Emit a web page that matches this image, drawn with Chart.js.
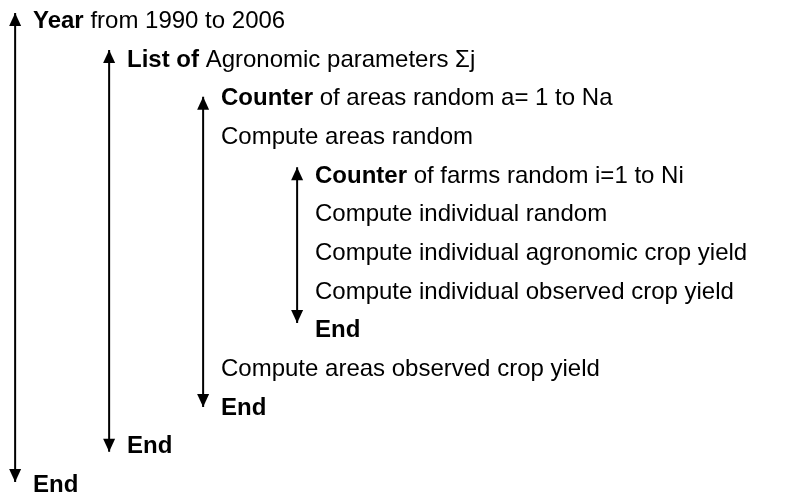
<!DOCTYPE html>
<html>
<head>
<meta charset="utf-8">
<script src="https://cdn.jsdelivr.net/npm/chart.js@4"></script>
<style>
  body { margin: 0; background: #fff; }
  canvas { display: block; }
</style>
</head>
<body>
<canvas id="flowChart" width="797" height="495"></canvas>
<script>
// one entry per text row, top to bottom
const rowLevels = [0, 1, 2, 2, 3, 3, 3, 3, 3, 2, 2, 1, 0];
const rowBold = ["Year", "List of", "Counter", "", "Counter", "", "", "", "End", "", "End", "End", "End"];
const rowText = [
  " from 1990 to 2006",
  " Agronomic parameters Σj",
  " of areas random a= 1 to Na",
  "Compute areas random",
  " of farms random i=1 to Ni",
  "Compute individual random",
  "Compute individual agronomic crop yield",
  "Compute individual observed crop yield",
  "",
  "Compute areas observed crop yield",
  "",
  "",
  ""
];

// loops (double arrows): nesting level, top tip row, bottom tip row
const loopLevels = [0, 1, 2, 3];
const loopStart = [-0.39, 0.57, 1.78, 3.60];
const loopEnd = [11.74, 10.96, 9.80, 7.63];

const ARROW_SHIFT = 0.19;
const FONT = "24px 'Liberation Sans', Arial, sans-serif";
const BOLD = "bold 24px 'Liberation Sans', Arial, sans-serif";

const loopSets = loopLevels.map((lvl, i) => ({
  label: "loop" + i,
  data: [{ x: lvl - ARROW_SHIFT, y: loopStart[i] }, { x: lvl - ARROW_SHIFT, y: loopEnd[i] }],
  showLine: true,
  borderColor: "#000",
  borderWidth: 2,
  pointRadius: 0,
  isLoop: true
}));

const textSet = {
  label: "rows",
  data: rowLevels.map((lvl, i) => ({ x: lvl, y: i })),
  pointRadius: 0,
  showLine: false,
  isText: true
};

const whiteBg = {
  id: "whiteBg",
  beforeDraw(chart) {
    const ctx = chart.ctx;
    ctx.save();
    ctx.fillStyle = "#fff";
    ctx.fillRect(0, 0, chart.width, chart.height);
    ctx.restore();
  }
};

// arrow heads on the loop ends, and the row texts at their points
const arrowsAndText = {
  id: "arrowsAndText",
  afterDatasetsDraw(chart) {
    const ctx = chart.ctx;
    ctx.save();
    ctx.fillStyle = "#000";
    chart.data.datasets.forEach((ds, di) => {
      const pts = chart.getDatasetMeta(di).data;
      if (ds.isLoop) {
        const a = pts[0], b = pts[1];
        ctx.beginPath();
        ctx.moveTo(a.x, a.y);
        ctx.lineTo(a.x - 6, a.y + 13);
        ctx.lineTo(a.x + 6, a.y + 13);
        ctx.closePath();
        ctx.fill();
        ctx.beginPath();
        ctx.moveTo(b.x, b.y);
        ctx.lineTo(b.x - 6, b.y - 13);
        ctx.lineTo(b.x + 6, b.y - 13);
        ctx.closePath();
        ctx.fill();
      }
      if (ds.isText) {
        ctx.textBaseline = "alphabetic";
        pts.forEach((p, i) => {
          let x = p.x;
          if (rowBold[i]) {
            ctx.font = BOLD;
            ctx.fillText(rowBold[i], x, p.y);
            x += ctx.measureText(rowBold[i]).width;
          }
          if (rowText[i]) {
            ctx.font = FONT;
            ctx.fillText(rowText[i], x, p.y);
          }
        });
      }
    });
    ctx.restore();
  }
};

new Chart(document.getElementById("flowChart"), {
  type: "scatter",
  data: { datasets: [...loopSets, textSet] },
  options: {
    responsive: false,
    animation: false,
    layout: { padding: 0 },
    plugins: { legend: { display: false }, tooltip: { enabled: false } },
    scales: {
      x: { type: "linear", display: false, min: -0.351, max: 8.128 },
      y: { type: "linear", display: false, reverse: true, min: -0.724, max: 12.076 }
    }
  },
  plugins: [whiteBg, arrowsAndText]
});
</script>
</body>
</html>
